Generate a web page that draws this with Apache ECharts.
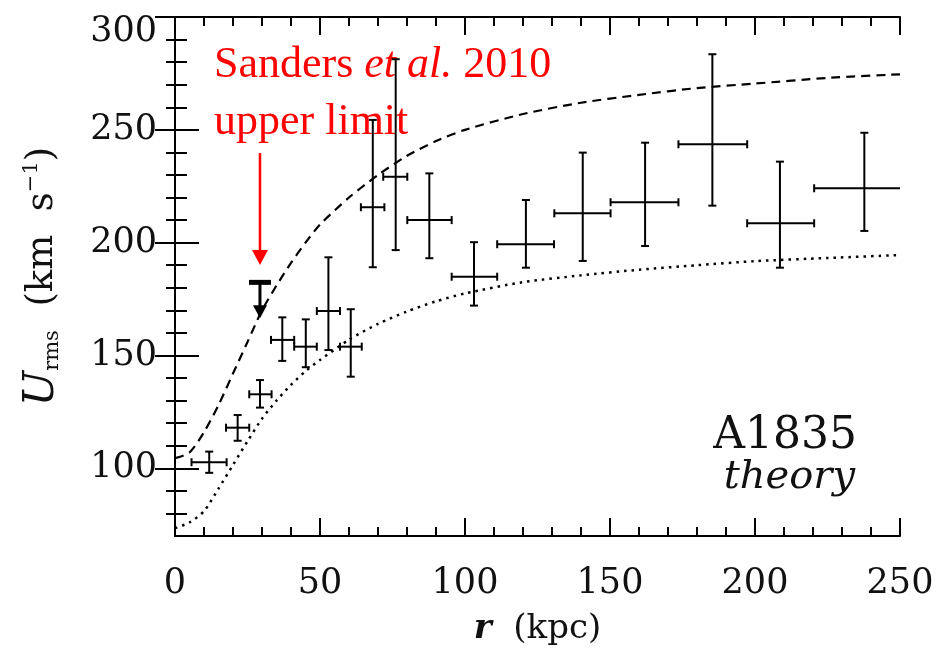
<!DOCTYPE html>
<html>
<head>
<meta charset="utf-8">
<script src="https://cdn.jsdelivr.net/npm/echarts@6/dist/echarts.min.js"></script>
<style>
html, body { margin: 0; background: #fff; }
#chart { width: 940px; height: 654px; }
</style>
</head>
<body>
<div id="chart"></div>
<script>
// measured points with error bars (r in kpc, U_rms in km/s)
var rMid = [11.8, 21.6, 29.3, 37.0, 45.1, 52.9, 60.6, 68.2, 76.1, 87.7, 103.1, 121.0, 140.6, 162.1, 185.3, 208.6, 237.7];
var uMid = [102.7, 118.0, 132.8, 156.9, 153.9, 169.7, 153.9, 215.7, 229.2, 210.0, 184.9, 199.3, 213.0, 217.9, 243.6, 208.6, 224.1];
var rLo = [5.7, 17.6, 25.6, 33.1, 41.1, 48.9, 56.9, 64.1, 71.8, 80.1, 95.4, 111.1, 130.8, 150.2, 173.6, 197.3, 220.4];
var rHi = [17.8, 25.6, 33.3, 41.1, 48.9, 56.9, 64.4, 72.2, 80.1, 95.4, 111.1, 130.7, 150.2, 173.6, 197.3, 220.4, 255];
var uLo = [98.0, 112.2, 126.9, 147.6, 144.8, 152.4, 140.6, 189.1, 196.7, 193.1, 172.1, 188.9, 191.9, 198.5, 216.4, 188.9, 205.2];
var uHi = [107.4, 123.6, 139.1, 166.9, 166.0, 193.5, 170.5, 254.4, 281.3, 230.7, 200.2, 218.9, 239.9, 244.3, 283.5, 235.9, 248.7];

// theory curves
var curveR = [0, 5, 10, 15, 20, 25, 30, 35, 40, 45, 50, 60, 70, 80, 90, 100, 120, 140, 160, 180, 200, 225, 250];
var dashedU = [104.5, 107, 116, 128, 142, 156, 170, 181, 191, 200, 208, 220, 230, 238.5, 245, 250, 257, 262, 265.5, 268.5, 270.5, 273, 274.6];
var dottedU = [73.5, 76, 81, 91, 101.5, 112, 122, 130, 137, 143, 148, 157, 164, 169.5, 174, 177.5, 182.5, 185.5, 188, 190, 191.8, 193.2, 194.5];

// Sanders et al. 2010 upper limit, and the red pointer above it
var limitPoint = [29.3, 182.4, 166.5];
var pointerPoint = [29.3, 239.7, 190.1];

var xMajor = [0, 50, 100, 150, 200, 250];
var xMinor = [10, 20, 30, 40, 60, 70, 80, 90, 110, 120, 130, 140, 160, 170, 180, 190, 210, 220, 230, 240];
var yMajor = [100, 150, 200, 250, 300];
var yMinor = [80, 90, 110, 120, 130, 140, 160, 170, 180, 190, 210, 220, 230, 240, 260, 270, 280, 290];

var ink = '#000';
var serif = 'DejaVu Serif';

function zip(a, b) {
    var out = [];
    for (var i = 0; i < a.length; i++) out.push([a[i], b[i]]);
    return out;
}

var errRows = [];
for (var i = 0; i < rMid.length; i++) {
    errRows.push([rMid[i], uMid[i], rLo[i], rHi[i], uLo[i], uHi[i]]);
}

function tickAxis(pos, values, len, withLine) {
    var vertical = pos === 'left' || pos === 'right';
    return {
        type: 'value',
        min: vertical ? 70 : 0,
        max: vertical ? 300 : 250,
        position: pos,
        axisLine: { show: withLine, lineStyle: { color: ink, width: 2 } },
        axisTick: { show: true, inside: true, length: len, customValues: values, lineStyle: { color: ink, width: 2 } },
        axisLabel: { show: false },
        splitLine: { show: false }
    };
}

var xMain = tickAxis('bottom', xMajor, 18, true);
xMain.axisLabel = {
    show: true, customValues: xMajor, margin: 30,
    fontFamily: serif, fontSize: 35, color: '#111'
};
xMain.name = '{i|r}  (kpc)';
xMain.nameLocation = 'middle';
xMain.nameGap = 76;
xMain.nameTextStyle = {
    fontFamily: serif, fontSize: 34, color: '#111',
    rich: { i: { fontFamily: serif, fontStyle: 'italic', fontWeight: 'bold', fontSize: 34, color: '#111' } }
};

var yMain = tickAxis('left', yMajor, 24, true);
yMain.axisLabel = {
    show: true, customValues: yMajor, margin: 18,
    fontFamily: serif, fontSize: 35, color: '#111',
    formatter: function (v) { return v === 300 ? '{t|300}' : String(v); },
    rich: { t: { fontFamily: serif, fontSize: 35, color: '#111', padding: [30, 0, 0, 0] } }
};
yMain.name = '{u|U}{s|rms}  (km  s{p|\u22121})';
yMain.nameLocation = 'middle';
yMain.nameRotate = 90;
yMain.nameGap = 112;
yMain.nameTextStyle = {
    fontFamily: serif, fontSize: 37, color: '#111', lineHeight: 42,
    rich: {
        u: { fontFamily: serif, fontStyle: 'italic', fontSize: 42, color: '#111', lineHeight: 42 },
        s: { fontFamily: serif, fontSize: 21, color: '#111', verticalAlign: 'bottom', lineHeight: 20 },
        p: { fontFamily: serif, fontSize: 21, color: '#111', verticalAlign: 'top', lineHeight: 20 }
    }
};

var option = {
    backgroundColor: '#fff',
    animation: false,
    grid: { left: 175, right: 40, top: 17, bottom: 118, containLabel: false },
    xAxis: [
        xMain,
        tickAxis('bottom', xMinor, 9, false),
        tickAxis('top', xMajor, 18, true),
        tickAxis('top', xMinor, 9, false)
    ],
    yAxis: [
        yMain,
        tickAxis('left', yMinor, 12, false),
        tickAxis('right', yMajor, 20, true),
        tickAxis('right', yMinor, 9, false)
    ],
    series: [
        {
            type: 'line', data: zip(curveR, dashedU), showSymbol: false, smooth: 0.25,
            lineStyle: { color: ink, width: 2.2, type: [9, 6] }, silent: true
        },
        {
            type: 'line', data: zip(curveR, dottedU), showSymbol: false, smooth: 0.25,
            lineStyle: { color: ink, width: 2.5, type: [2.5, 5] }, silent: true
        },
        {
            type: 'custom', clip: true, data: errRows,
            encode: { x: [0, 2, 3], y: [1, 4, 5] },
            renderItem: function (params, api) {
                var c = api.coord([api.value(0), api.value(1)]);
                var l = api.coord([api.value(2), api.value(1)]);
                var r = api.coord([api.value(3), api.value(1)]);
                var b = api.coord([api.value(0), api.value(4)]);
                var t = api.coord([api.value(0), api.value(5)]);
                var cap = 4;
                var st = { stroke: ink, lineWidth: 2 };
                return {
                    type: 'group',
                    children: [
                        { type: 'line', shape: { x1: l[0], y1: c[1], x2: r[0], y2: c[1] }, style: st },
                        { type: 'line', shape: { x1: c[0], y1: b[1], x2: c[0], y2: t[1] }, style: st },
                        { type: 'line', shape: { x1: l[0], y1: c[1] - cap, x2: l[0], y2: c[1] + cap }, style: st },
                        { type: 'line', shape: { x1: r[0], y1: c[1] - cap, x2: r[0], y2: c[1] + cap }, style: st },
                        { type: 'line', shape: { x1: c[0] - cap, y1: b[1], x2: c[0] + cap, y2: b[1] }, style: st },
                        { type: 'line', shape: { x1: c[0] - cap, y1: t[1], x2: c[0] + cap, y2: t[1] }, style: st }
                    ]
                };
            }
        },
        {
            type: 'custom', data: [limitPoint],
            encode: { x: 0, y: [1, 2] },
            renderItem: function (params, api) {
                var top = api.coord([api.value(0), api.value(1)]);
                var tip = api.coord([api.value(0), api.value(2)]);
                return {
                    type: 'group',
                    children: [
                        { type: 'line', shape: { x1: top[0] - 11, y1: top[1], x2: top[0] + 11, y2: top[1] }, style: { stroke: ink, lineWidth: 5 } },
                        { type: 'line', shape: { x1: top[0], y1: top[1], x2: tip[0], y2: tip[1] - 10 }, style: { stroke: ink, lineWidth: 3 } },
                        { type: 'polygon', shape: { points: [[tip[0] - 7, tip[1] - 13], [tip[0] + 7, tip[1] - 13], [tip[0], tip[1]]] }, style: { fill: ink } }
                    ]
                };
            }
        },
        {
            type: 'custom', data: [pointerPoint],
            encode: { x: 0, y: [1, 2] },
            renderItem: function (params, api) {
                var top = api.coord([api.value(0), api.value(1)]);
                var tip = api.coord([api.value(0), api.value(2)]);
                return {
                    type: 'group',
                    children: [
                        { type: 'line', shape: { x1: top[0], y1: top[1], x2: tip[0], y2: tip[1] - 12 }, style: { stroke: '#ff0000', lineWidth: 2.5 } },
                        { type: 'polygon', shape: { points: [[tip[0] - 8, tip[1] - 15], [tip[0] + 8, tip[1] - 15], [tip[0], tip[1]]] }, style: { fill: '#ff0000' } }
                    ]
                };
            }
        }
    ],
    graphic: [
        {
            type: 'text', x: 214, y: 65,
            style: {
                text: '{a|Sanders }{b|et al.}{a| 2010}',
                verticalAlign: 'middle',
                rich: {
                    a: { fontFamily: 'Liberation Serif', fontSize: 44, fill: '#ff0000' },
                    b: { fontFamily: 'Liberation Serif', fontStyle: 'italic', fontSize: 44, fill: '#ff0000' }
                }
            }
        },
        {
            type: 'text', x: 214, y: 122,
            style: { text: 'upper limit', verticalAlign: 'middle', font: '44px "Liberation Serif"', fill: '#ff0000' }
        },
        {
            type: 'text', x: 857, y: 437,
            style: { text: 'A1835', align: 'right', verticalAlign: 'middle', font: '44px "DejaVu Serif"', fill: '#111' }
        },
        {
            type: 'text', x: 855, y: 478,
            style: { text: 'theory', align: 'right', verticalAlign: 'middle', font: 'italic 40px "DejaVu Serif"', fill: '#111' }
        }
    ]
};

var chart = echarts.init(document.getElementById('chart'));
chart.setOption(option);
</script>
</body>
</html>
